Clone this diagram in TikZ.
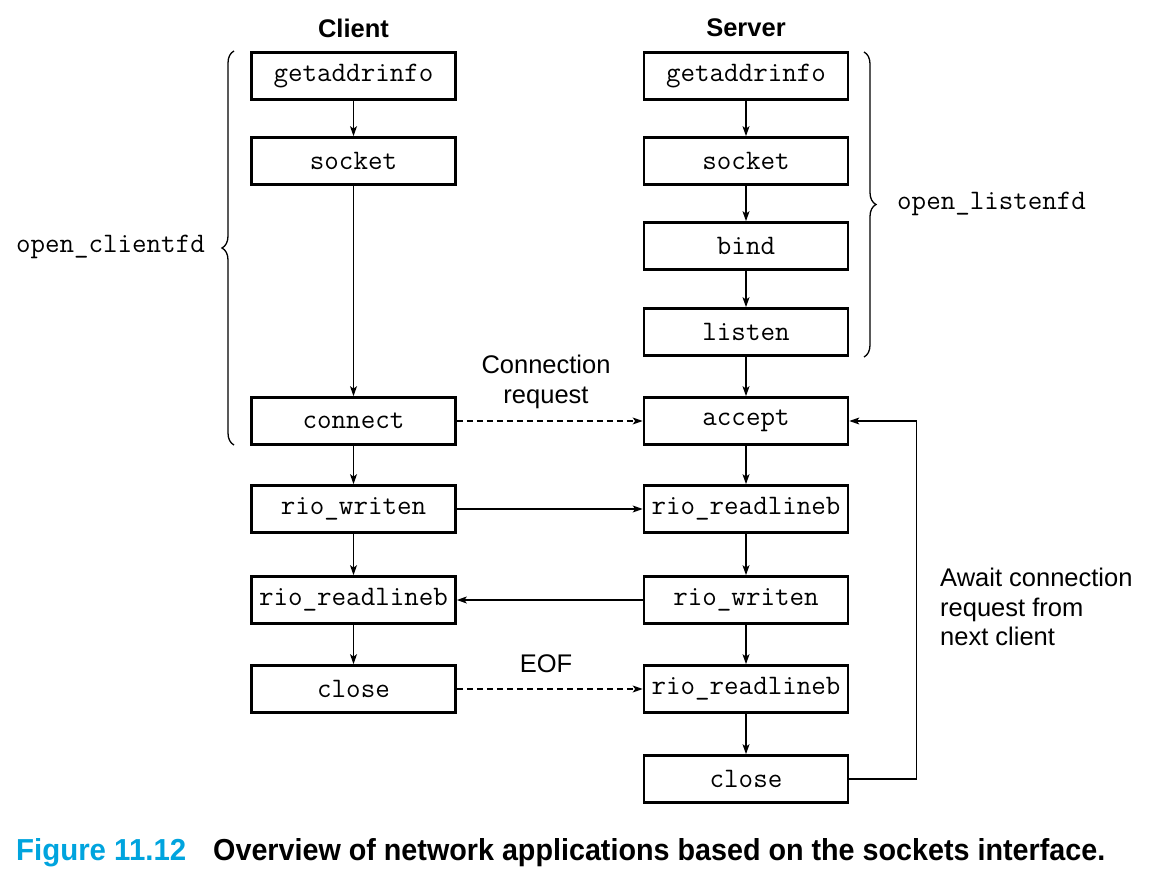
\documentclass[tikz,border=0pt]{standalone}
\usepackage{fontspec}
\setsansfont{Liberation Sans}
\usetikzlibrary{arrows.meta,decorations.pathreplacing,calc}
\definecolor{capcyan}{RGB}{0,164,222}
\begin{document}
\begin{tikzpicture}[x=1pt,y=-1pt,
  fn/.style={draw,line width=2.7pt,minimum width=204pt,minimum height=47pt,inner sep=0pt,
    font=\fontsize{28.2}{30}\selectfont\ttfamily},
  arr/.style={line width=1.2pt,-{Stealth[length=10pt,width=7pt,inset=2.5pt]}},
  darr/.style={arr,dash pattern=on 6pt off 4pt},
  lbl/.style={font=\fontsize{25.5}{29.5}\selectfont\sffamily,inner sep=0pt},
  hdr/.style={font=\fontsize{25.5}{29}\selectfont\sffamily\bfseries,inner sep=0pt},
  side/.style={font=\fontsize{28.2}{30}\selectfont\ttfamily,inner sep=0pt},
  brc/.style={line width=1.3pt,decorate,decoration={brace,amplitude=12pt}}]
\useasboundingbox (0,0) rectangle (1162,877);
% headers
\node[hdr] (hc) at (353.5,28) {Client};
\node[hdr] (hs) at (746,28) {Server};
% client
\node[fn] (cga) at (353.5,76) {getaddrinfo};
\node[fn] (cso) at (353.5,161) {socket};
\node[fn] (cco) at (353.5,421) {connect};
\node[fn] (cwr) at (353.5,509) {rio\_writen};
\node[fn] (crd) at (353.5,600) {rio\_readlineb};
\node[fn] (ccl) at (353.5,689) {close};
% server
\node[fn] (sga) at (746,76) {getaddrinfo};
\node[fn] (sso) at (746,161) {socket};
\node[fn] (sbi) at (746,246) {bind};
\node[fn] (sli) at (746,332) {listen};
\node[fn] (sac) at (746,421) {accept};
\node[fn] (srd) at (746,509) {rio\_readlineb};
\node[fn] (swr) at (746,600) {rio\_writen};
\node[fn] (srd2) at (746,689) {rio\_readlineb};
\node[fn] (scl) at (746,779) {close};
% vertical arrows
\draw[arr] (cga) -- (cso);
\draw[arr] (cso) -- (cco);
\draw[arr] (cco) -- (cwr);
\draw[arr] (cwr) -- (crd);
\draw[arr] (crd) -- (ccl);
\draw[arr] (sga) -- (sso);
\draw[arr] (sso) -- (sbi);
\draw[arr] (sbi) -- (sli);
\draw[arr] (sli) -- (sac);
\draw[arr] (sac) -- (srd);
\draw[arr] (srd) -- (swr);
\draw[arr] (swr) -- (srd2);
\draw[arr] (srd2) -- (scl);
% horizontal
\draw[darr] (cco) -- (sac);
\draw[arr] (cwr) -- (srd);
\draw[arr] (swr) -- (crd);
\draw[darr] (ccl) -- (srd2);
% loop
\draw[arr] (scl.east) -- ++(67,0) |- (sac.east);
% labels
\node[lbl,align=center] (lcr) at (546,382) {Connection\\request};
\node[lbl] (leof) at (546,664) {EOF};
\node[lbl,align=left,anchor=west] (law) at (940,607) {Await connection\\request from\\next client};
% braces
\draw[brc] (234,445) -- (234,51);
\draw[brc] (864,52) -- (864,357);
\node[side,anchor=east] (ocf) at (205,247) {open\_clientfd};
\node[side,anchor=west] (olf) at (897,204) {open\_listenfd};
% caption
\node[anchor=base west,inner sep=0pt,text=capcyan,font=\sffamily\bfseries] (fig) at (16,860)
  {\resizebox{170pt}{22pt}{Figure 11.12}};
\node[anchor=base west,inner sep=0pt,font=\sffamily\bfseries] (cap) at (213,860)
  {\resizebox{892pt}{22pt}{Overview of network applications based on the sockets interface.}};
\end{tikzpicture}
\end{document}
